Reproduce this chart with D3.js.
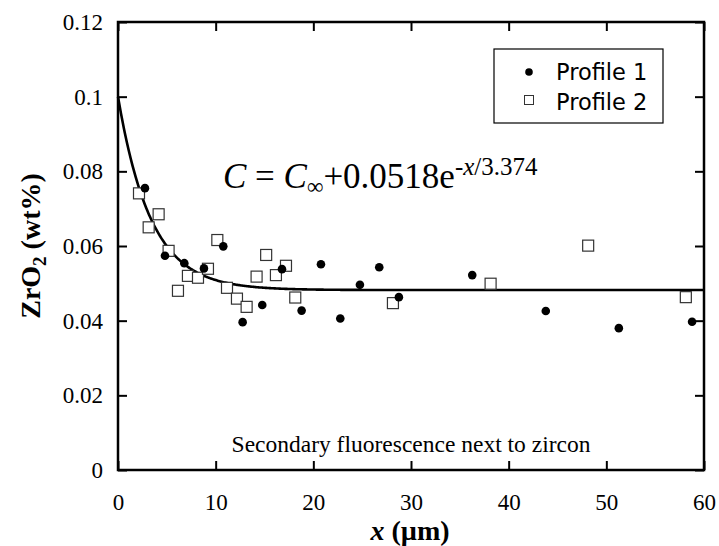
<!DOCTYPE html>
<html>
<head>
<meta charset="utf-8">
<script src="https://cdn.jsdelivr.net/npm/d3@7"></script>
<style>
  body { margin: 0; background: #fff; }
  svg text { fill: #000; }
</style>
</head>
<body>
<svg id="CHART" width="719" height="546"></svg>
<script>
// profile 1 (filled circles): x in um, ZrO2 in wt%
var profile1X = [2.76, 4.81, 6.79, 8.80, 10.78, 12.76, 14.77, 16.79, 18.80, 20.78, 22.76, 24.77, 26.75, 28.76, 36.27, 43.8, 51.28, 58.78];
var profile1Y = [0.0755, 0.0574, 0.0554, 0.0540, 0.0599, 0.0396, 0.0442, 0.0538, 0.0427, 0.0551, 0.0406, 0.0496, 0.0543, 0.0463, 0.0522, 0.0426, 0.0380, 0.0397];

// profile 2 (open squares)
var profile2X = [2.15, 3.14, 4.16, 5.18, 6.14, 7.16, 8.19, 9.21, 10.17, 11.16, 12.18, 13.17, 14.19, 15.17, 16.17, 17.20, 18.15, 28.15, 38.15, 48.14, 58.14];
var profile2Y = [0.0741, 0.0650, 0.0685, 0.0587, 0.0480, 0.0520, 0.0515, 0.0539, 0.0616, 0.0488, 0.0459, 0.0437, 0.0518, 0.0576, 0.0522, 0.0547, 0.0462, 0.0447, 0.0499, 0.0601, 0.0463];

// fitted curve C = Cinf + A exp(-x/L)
var fitCinf = 0.0482;
var fitA = 0.0518;
var fitL = 3.374;

var xTicks = [0, 10, 20, 30, 40, 50, 60];
var yTicks = [0, 0.02, 0.04, 0.06, 0.08, 0.1, 0.12];
var legendLabels = ["Profile 1", "Profile 2"];

var chart = {
  draw: function () {
    var left = 118, right = 704, top = 22, bottom = 470;
    var svg = d3.select("#CHART");

    var x = d3.scaleLinear().domain([0, 60]).range([left, right]);
    var y = d3.scaleLinear().domain([0, 0.12]).range([bottom, top]);

    var serif = "'Liberation Serif', 'Times New Roman', serif";
    var sans = "'DejaVu Sans', 'Noto Sans', sans-serif";

    // axes with inward ticks on all four sides
    var fmtY = function (d) { return d === 0 ? "0" : String(+d.toFixed(2)); };
    var axisB = svg.append("g").attr("transform", "translate(0," + bottom + ")")
      .call(d3.axisBottom(x).tickValues(xTicks).tickSizeInner(-9).tickSizeOuter(0).tickPadding(24));
    var axisL = svg.append("g").attr("transform", "translate(" + left + ",0)")
      .call(d3.axisLeft(y).tickValues(yTicks).tickFormat(fmtY).tickSizeInner(-9).tickSizeOuter(0).tickPadding(15));
    var axisT = svg.append("g").attr("transform", "translate(0," + top + ")")
      .call(d3.axisTop(x).tickValues(xTicks).tickSizeInner(-9).tickSizeOuter(0).tickFormat(""));
    var axisR = svg.append("g").attr("transform", "translate(" + right + ",0)")
      .call(d3.axisRight(y).tickValues(yTicks).tickSizeInner(-9).tickSizeOuter(0).tickFormat(""));

    [axisB, axisL, axisT, axisR].forEach(function (a) {
      a.attr("font-family", serif).attr("font-size", 23);
      a.select(".domain").remove();
      a.selectAll(".tick line").attr("stroke", "#000").attr("stroke-width", 2);
      a.selectAll(".tick text").style("font-family", serif).style("font-size", "23px").attr("fill", "#000");
    });

    svg.append("rect")
      .attr("x", left).attr("y", top)
      .attr("width", right - left).attr("height", bottom - top)
      .attr("fill", "none").attr("stroke", "#000").attr("stroke-width", 2.5);

    // fitted curve
    var xs = d3.range(0, 60.01, 0.1);
    var line = d3.line()
      .x(function (d) { return x(d); })
      .y(function (d) { return y(fitCinf + fitA * Math.exp(-d / fitL)); });
    svg.append("path")
      .datum(xs)
      .attr("d", line)
      .attr("fill", "none")
      .attr("stroke", "#000")
      .attr("stroke-width", 2.6);

    // profile 2 squares
    var p2 = profile2X.map(function (v, i) { return { x: v, y: profile2Y[i] }; });
    svg.append("g").selectAll("rect")
      .data(p2)
      .join("rect")
      .attr("x", function (d) { return x(d.x) - 5.5; })
      .attr("y", function (d) { return y(d.y) - 5.5; })
      .attr("width", 11).attr("height", 11)
      .attr("fill", "#fff")
      .attr("stroke", "#333")
      .attr("stroke-width", 1.2);

    // profile 1 circles
    var p1 = profile1X.map(function (v, i) { return { x: v, y: profile1Y[i] }; });
    svg.append("g").selectAll("circle")
      .data(p1)
      .join("circle")
      .attr("cx", function (d) { return x(d.x); })
      .attr("cy", function (d) { return y(d.y); })
      .attr("r", 4.3)
      .attr("fill", "#000");

    // legend
    svg.append("rect")
      .attr("x", 494).attr("y", 49).attr("width", 169).attr("height", 74)
      .attr("fill", "#fff").attr("stroke", "#000").attr("stroke-width", 1.2);
    svg.append("circle").attr("cx", 529).attr("cy", 72).attr("r", 3.8).attr("fill", "#000");
    svg.append("rect").attr("x", 524.5).attr("y", 95.5).attr("width", 9).attr("height", 9)
      .attr("fill", "#fff").attr("stroke", "#333").attr("stroke-width", 1);
    legendLabels.forEach(function (t, i) {
      svg.append("text")
        .attr("x", 556).attr("y", 80 + i * 30)
        .style("font-family", sans).style("font-size", "22.5px")
        .text(t);
    });

    // equation
    var eq = svg.append("text")
      .attr("x", 223).attr("y", 188)
      .style("font-family", serif).style("font-size", "35px");
    eq.append("tspan").style("font-style", "italic").text("C");
    eq.append("tspan").text(" = ");
    eq.append("tspan").style("font-style", "italic").text("C");
    eq.append("tspan").attr("dy", 6).style("font-size", "23px").text("\u221e");
    eq.append("tspan").attr("dy", -6).text("+0.0518e");
    eq.append("tspan").attr("dy", -13).style("font-size", "25px").style("font-style", "italic").text("-x");
    eq.append("tspan").style("font-size", "25px").text("/3.374");

    // annotation
    svg.append("text")
      .attr("x", 411).attr("y", 452)
      .attr("text-anchor", "middle")
      .style("font-family", serif).style("font-size", "23.5px")
      .text("Secondary fluorescence next to zircon");

    // axis titles
    var xt = svg.append("text")
      .attr("x", 410).attr("y", 540)
      .attr("text-anchor", "middle")
      .style("font-family", serif).style("font-size", "28px").style("font-weight", "bold");
    xt.append("tspan").style("font-style", "italic").text("x");
    xt.append("tspan").text(" (\u00b5m)");

    var yt = svg.append("text")
      .attr("transform", "translate(40,246) rotate(-90)")
      .attr("text-anchor", "middle")
      .style("font-family", serif).style("font-size", "28px").style("font-weight", "bold");
    yt.append("tspan").text("ZrO");
    yt.append("tspan").attr("dy", 6).style("font-size", "19px").text("2");
    yt.append("tspan").attr("dy", -6).text(" (wt%)");
  }
};

chart.draw();
</script>
</body>
</html>
